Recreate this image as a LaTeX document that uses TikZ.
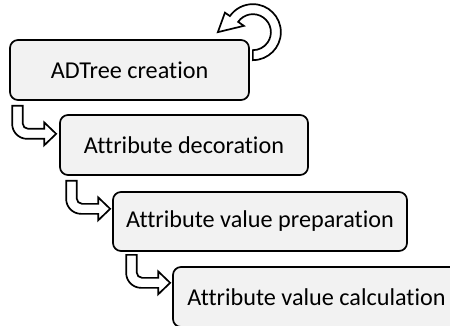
\documentclass[tikz,border=0pt]{standalone}
\usepackage{fontspec}
\setmainfont{Carlito}[Ligatures=NoCommon]
\begin{document}
\begin{tikzpicture}[x=1pt,y=-1pt,
  stage/.style={draw=black, line width=1.7pt, fill=boxgray, rounded corners=8pt,
    inner sep=0pt, font=\fontsize{24.2}{29}\selectfont},
  hollow/.style={draw=black, line width=1.7pt, fill=white, line join=miter},
  bentarrow/.pic={
    \path[hollow] (0,0) -- (0,18)
      arc[start angle=180, end angle=90, radius=15]
      -- (32,33) -- (32,39.5) -- (44,28) -- (32,16.5) -- (32,23) -- (16,23)
      arc[start angle=90, end angle=180, radius=5.5]
      -- (10.5,0) -- cycle;
  }]
\definecolor{boxgray}{HTML}{F2F2F2}
\useasboundingbox (0,0) rectangle (450,326);
\clip (0,0) rectangle (450,326);

% process stages
\node[stage, minimum width=239pt, minimum height=60pt] (b1) at (129.5,70) {ADTree creation};
\node[stage, minimum width=248pt, minimum height=60pt] (b2) at (184,145) {Attribute decoration};
\node[stage, minimum width=294pt, minimum height=59pt] (b3) at (260,221.5) {Attribute value preparation};
\node[stage, minimum width=287pt, minimum height=60pt] (b4) at (316.5,297) {Attribute value calculation};

% step-down arrows between stages
\pic at ([shift={(3,5)}]b1.south west) {bentarrow};
\pic at ([shift={(7,5)}]b2.south west) {bentarrow};
\pic at ([shift={(14,3)}]b3.south west) {bentarrow};

% circular arrow: the first stage repeats
\coordinate (loopc) at ([shift={(3,-7)}]b1.north east);
\path[hollow] ([shift={(0,28)}]loopc)
  arc[start angle=90, end angle=-145, radius=28]
  -- ([shift={(-27.9,-19.5)}]loopc)
  -- ([shift={(-35,0)}]loopc)
  -- ([shift={(-9,-6.3)}]loopc)
  -- ([shift={(-14.7,-10.3)}]loopc)
  arc[start angle=-145, end angle=90, radius=18]
  -- cycle;
\end{tikzpicture}
\end{document}
